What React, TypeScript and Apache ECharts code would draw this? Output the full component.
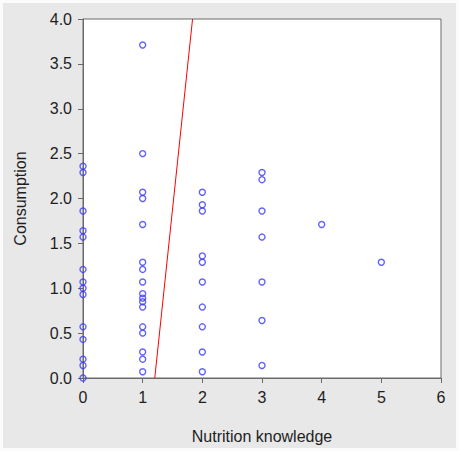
import React, { useEffect, useRef } from "react";
import * as echarts from "echarts";

const knowledge0 = [2.36, 2.29, 1.86, 1.64, 1.57, 1.21, 1.07, 1.0, 0.93, 0.57, 0.43, 0.21, 0.14, 0.0];
const knowledge1 = [3.71, 2.5, 2.07, 2.0, 1.71, 1.29, 1.21, 1.07, 0.94, 0.89, 0.85, 0.79, 0.57, 0.5, 0.29, 0.21, 0.07];
const knowledge2 = [2.07, 1.93, 1.86, 1.36, 1.29, 1.07, 0.79, 0.57, 0.29, 0.07];
const knowledge3 = [2.29, 2.21, 1.86, 1.57, 1.07, 0.64, 0.14];
const knowledge4 = [1.71];
const knowledge5 = [1.29];
const groups = [knowledge0, knowledge1, knowledge2, knowledge3, knowledge4, knowledge5];

const fitLine = [
  [1.203, 0],
  [1.836, 4],
];

const xTicks = [0, 1, 2, 3, 4, 5, 6];
const yTicks = [0, 0.5, 1.0, 1.5, 2.0, 2.5, 3.0, 3.5, 4.0];

export default function App() {
  const ref = useRef<HTMLDivElement>(null);
  useEffect(() => {
    document.body.style.margin = "0";
    if (!ref.current) return;
    const chart = echarts.init(ref.current, null, { renderer: "svg" });
    const points: number[][] = [];
    groups.forEach((arr, k) => arr.forEach((v) => points.push([k, v])));
    const font = "'Liberation Sans', Arial, sans-serif";
    chart.setOption({
      animation: false,
      backgroundColor: "#fbfbfb",
      graphic: [
        {
          type: "rect",
          z: -10,
          silent: true,
          shape: { x: 3, y: 3, width: 453, height: 445 },
          style: { fill: "#e8e8e8" },
        },
      ],
      grid: {
        left: 83,
        top: 19,
        right: 18,
        bottom: 73,
        show: true,
        backgroundColor: "#ffffff",
        borderColor: "#6a6a6a",
        borderWidth: 1,
      },
      xAxis: {
        type: "value",
        min: xTicks[0],
        max: xTicks[xTicks.length - 1],
        interval: 1,
        name: "Nutrition knowledge",
        nameLocation: "middle",
        nameGap: 50,
        nameTextStyle: { fontFamily: font, fontSize: 16, color: "#1e1e1e" },
        axisLine: { show: true, lineStyle: { color: "#6a6a6a", width: 1 } },
        axisTick: { show: true, inside: false, length: 5, lineStyle: { color: "#6a6a6a" } },
        axisLabel: { fontFamily: font, fontSize: 16, color: "#1e1e1e", margin: 11 },
        splitLine: { show: false },
      },
      yAxis: {
        type: "value",
        min: yTicks[0],
        max: yTicks[yTicks.length - 1],
        interval: 0.5,
        name: "Consumption",
        nameLocation: "middle",
        nameGap: 55,
        nameTextStyle: { fontFamily: font, fontSize: 16, color: "#1e1e1e" },
        axisLine: { show: true, lineStyle: { color: "#6a6a6a", width: 1 } },
        axisTick: { show: true, inside: false, length: 5, lineStyle: { color: "#6a6a6a" } },
        axisLabel: {
          fontFamily: font,
          fontSize: 16,
          color: "#1e1e1e",
          margin: 11,
          formatter: (v: number) => v.toFixed(1),
        },
        splitLine: { show: false },
      },
      series: [
        {
          type: "scatter",
          data: points,
          clip: false,
          symbol: "circle",
          symbolSize: 6,
          itemStyle: { color: "rgba(0,0,0,0)", borderColor: "#3a3aff", borderWidth: 1.4 },
          z: 3,
        },
        {
          type: "line",
          data: fitLine,
          symbol: "none",
          lineStyle: { color: "#ff0000", width: 1 },
          z: 4,
        },
      ],
    });
    return () => chart.dispose();
  }, []);
  return <div ref={ref} style={{ width: 459, height: 451 }} />;
}
